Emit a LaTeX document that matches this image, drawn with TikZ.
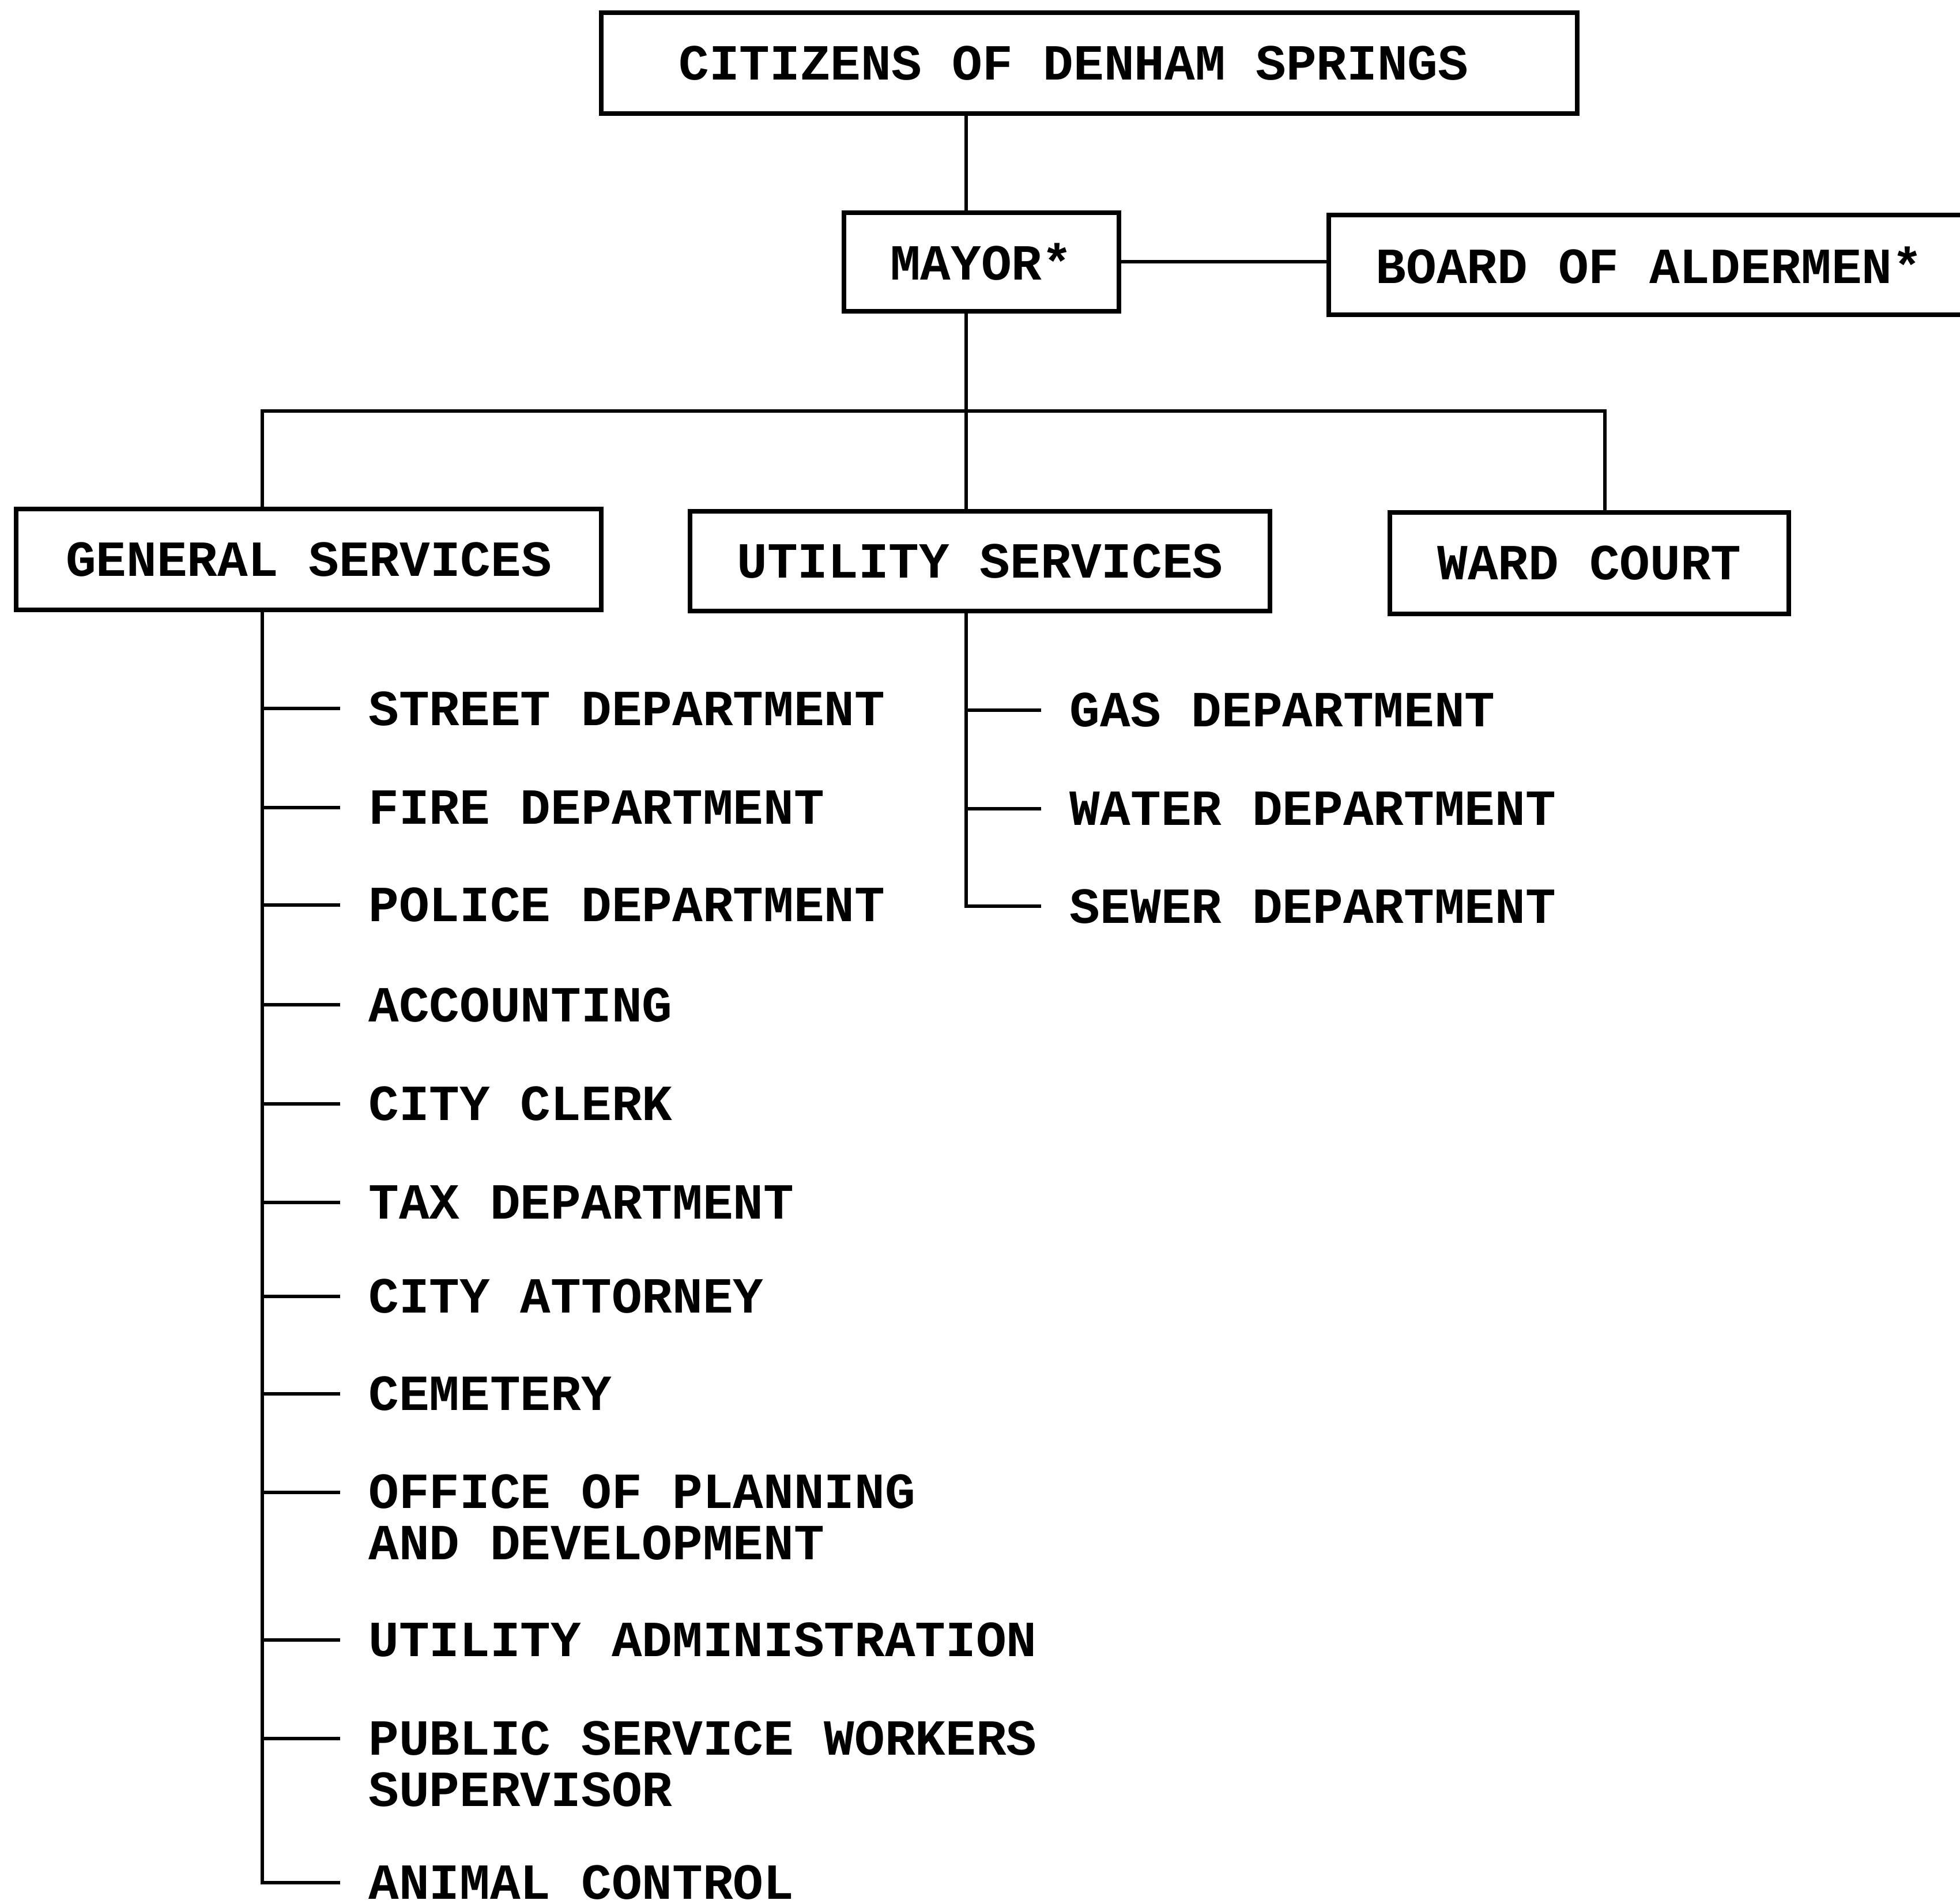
\documentclass[tikz,border=0pt]{standalone}
\usepackage{fontspec}
\newfontfamily\tw{Liberation Mono}
\newdimen\U \U=0.2168pt
\begin{document}
\begin{tikzpicture}[x=0.2168pt, y=-0.2168pt,
  every node/.style={font=\tw\bfseries\fontsize{8.78pt}{8.9pt}\selectfont},
  box/.style={draw, line width=0.8pt, inner sep=0pt},
  item/.style={anchor=west, inner xsep=22\U, inner ysep=0pt, align=left},
  link/.style={line width=0.6pt}]
\useasboundingbox (0,0) rectangle (1568,1523);
\clip (0,0) rectangle (1568,1523);

% boxes
\node[box, minimum height=81\U, inner xsep=62\U] (cit) at (871.5,50.5) {\makebox[657\U][l]{CITIZENS OF DENHAM SPRINGS}};
\node[box, minimum width=220\U, minimum height=79\U] (mayor) at (785,209.5) {MAYOR*};
\node[box, minimum width=513\U, minimum height=80\U] (board) at (1319.5,212) {BOARD OF ALDERMEN*};
\node[box, minimum width=468\U, minimum height=81\U] (gen) at (247,447.5) {GENERAL SERVICES};
\node[box, minimum width=464\U, minimum height=80\U] (util) at (784,449) {UTILITY SERVICES};
\node[box, minimum width=319\U, minimum height=81\U] (ward) at (1271.5,450.5) {WARD COURT};

% helper coordinates
\coordinate (trunk) at (773,0);
\coordinate (gx) at (210,0);
\coordinate (wx) at (1284,0);
\coordinate (bar) at (0,329);

% upper connectors
\draw[link] (cit.south -| trunk) -- (mayor.north -| trunk);
\draw[link] (mayor.east) -- (board.west |- mayor.east);
\draw[link] (mayor.south -| trunk) -- (util.north -| trunk);
\draw[link] (gen.north -| gx) -- (gx |- bar) -- (wx |- bar) -- (ward.north -| wx);

% general services items
\coordinate (g1) at (272,567);
\coordinate (g2) at (272,646);
\coordinate (g3) at (272,724);
\coordinate (g4) at (272,804);
\coordinate (g5) at (272,883);
\coordinate (g6) at (272,962);
\coordinate (g7) at (272,1037);
\coordinate (g8) at (272,1115);
\coordinate (g9) at (272,1194);
\coordinate (g10) at (272,1312);
\coordinate (g11) at (272,1391);
\coordinate (g12) at (272,1506);
\node[item] (gi1) at (g1) {STREET DEPARTMENT};
\node[item] (gi2) at (g2) {FIRE DEPARTMENT};
\node[item] (gi3) at (g3) {POLICE DEPARTMENT};
\node[item] (gi4) at (g4) {ACCOUNTING};
\node[item] (gi5) at (g5) {CITY CLERK};
\node[item] (gi6) at (g6) {TAX DEPARTMENT};
\node[item] (gi7) at (g7) {CITY ATTORNEY};
\node[item] (gi8) at (g8) {CEMETERY};
\node[item, yshift=-20\U] (gi9) at (g9) {OFFICE OF PLANNING\\AND DEVELOPMENT};
\node[item] (gi10) at (g10) {UTILITY ADMINISTRATION};
\node[item, yshift=-20\U] (gi11) at (g11) {PUBLIC SERVICE WORKERS\\SUPERVISOR};
\node[item] (gi12) at (g12) {ANIMAL CONTROL};
\draw[link] (gen.south -| gx) -- (gx |- g12) -- (g12);
\foreach \k in {1,...,11} \draw[link] (gx |- g\k) -- (g\k);

% utility services items
\coordinate (u1) at (833,568);
\coordinate (u2) at (833,647);
\coordinate (u3) at (833,725);
\node[item] (ui1) at (u1) {GAS DEPARTMENT};
\node[item] (ui2) at (u2) {WATER DEPARTMENT};
\node[item] (ui3) at (u3) {SEWER DEPARTMENT};
\draw[link] (util.south -| trunk) -- (trunk |- u3) -- (u3);
\foreach \k in {1,2} \draw[link] (trunk |- u\k) -- (u\k);
\end{tikzpicture}
\end{document}
